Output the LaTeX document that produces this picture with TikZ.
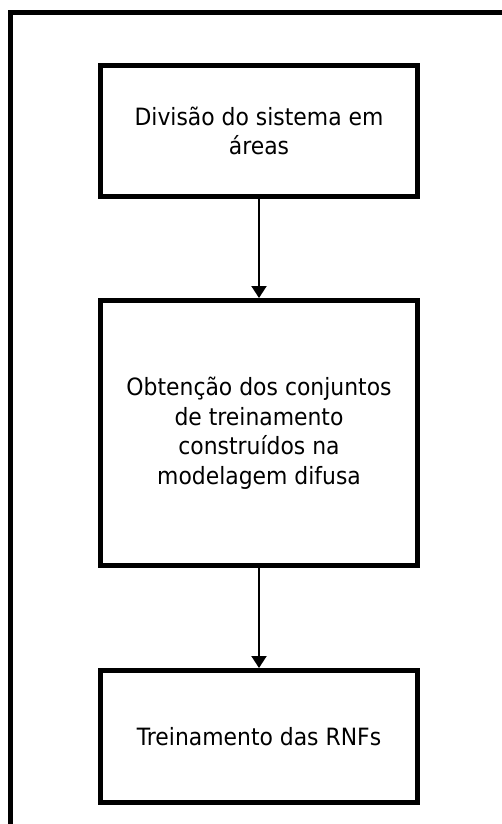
\documentclass[tikz,border=0pt]{standalone}
\usepackage{fontspec}
\setmainfont{DejaVu Sans}[FakeStretch=0.92]
\usetikzlibrary{positioning,arrows.meta}
\tikzstyle{etapa}=[rectangle,draw,line width=2.5pt,align=center,inner sep=0pt,
  minimum width=158.5pt,font=\fontsize{11.9}{14.75}\selectfont]

\begin{document}
\begin{tikzpicture}[
    x=0.5pt,y=-0.5pt,
    seta/.style={-{Triangle[width=7.5pt,length=6pt]},line width=1pt}
    ]
    \useasboundingbox (0,0) rectangle (502,824);

    % moldura
    \coordinate (canto) at (10.5,12.5);
    \coordinate (topo) at (502,12.5);
    \coordinate (base) at (10.5,824);
    \draw[line width=2.5pt] (topo) -- (canto) -- (base);

    % etapas
    \node[etapa,minimum height=65.5pt] (divisao) at (259,131)
      {Divisão do sistema em\\áreas};
    \node[etapa,minimum height=132.5pt,below=49.5pt of divisao] (conjuntos)
      {Obtenção dos conjuntos\\de treinamento\\construídos na\\modelagem difusa};
    \node[etapa,minimum height=65.75pt,below=50pt of conjuntos] (treino)
      {Treinamento das RNFs};

    % setas
    \draw[seta] (divisao) -- (conjuntos);
    \draw[seta] (conjuntos) -- (treino);

  \end{tikzpicture}
\end{document}
